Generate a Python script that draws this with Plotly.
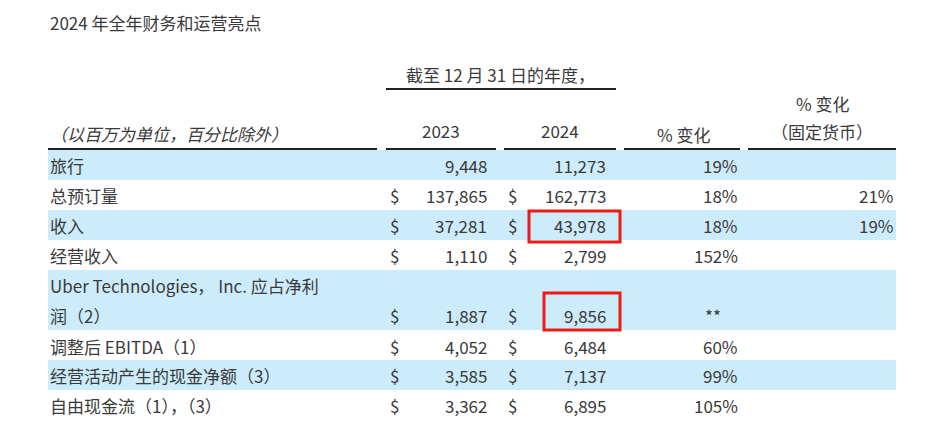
import plotly.graph_objects as go

title = "2024 年全年财务和运营亮点"
period = "截至 12 月 31 日的年度，"
col_headers = ["2023", "2024", "% 变化"]
const_header = ["% 变化", "（固定货币）"]
unit_label = "（以百万为单位，百分比除外）"
labels = ["旅行", "总预订量", "收入", "经营收入", "润（2）", "调整后 EBITDA（1）",
          "经营活动产生的现金净额（3）", "自由现金流（1），（3）"]
v2023 = ["9,448", "137,865", "37,281", "1,110", "1,887", "4,052", "3,585", "3,362"]
v2024 = ["11,273", "162,773", "43,978", "2,799", "9,856", "6,484", "7,137", "6,895"]
pct = ["19%", "18%", "18%", "152%", "**", "60%", "99%", "105%"]
pct_cc = ["", "21%", "19%", "", "", "", "", ""]
dollar = [False, True, True, True, True, True, True, True]
row_y = [165, 195, 225, 255, 315, 346, 375, 405]
bands = [(150, 180), (210, 240), (270, 330), (360, 390)]
highlight = [(2, 529, 620, 211, 242), (4, 544, 620, 293, 330)]

C = "#3a3a3a"
F = "Noto Sans CJK SC"
fig = go.Figure()
shapes = []
for y0, y1 in bands:
    shapes.append(dict(type="rect", x0=48, x1=896, y0=y0, y1=y1, fillcolor="#cdecfb", line_width=0, layer="below"))
for x0, x1 in [(48, 377), (386, 496), (504, 616), (624, 740), (748, 896)]:
    shapes.append(dict(type="line", x0=x0, x1=x1, y0=149, y1=149, line=dict(color="#222", width=2)))
shapes.append(dict(type="line", x0=386, x1=616, y0=89, y1=89, line=dict(color="#222", width=2)))
for _, x0, x1, y0, y1 in highlight:
    shapes.append(dict(type="rect", x0=x0, x1=x1, y0=y0, y1=y1, line=dict(color="#f01a14", width=3)))

ann = []
def t(x, y, s, anchor="left", size=17, italic=False):
    ann.append(dict(x=x, y=y, text=s, showarrow=False, xanchor=anchor, yanchor="middle",
                    font=dict(family=F, size=size, color=C, style="italic" if italic else "normal")))
t(48, 22, title)
t(500, 74, period, "center")
t(441, 130, col_headers[0], "center")
t(560, 130, col_headers[1], "center")
t(683, 134, col_headers[2], "center")
t(822, 103, const_header[0], "center")
t(822, 131, const_header[1], "center")
t(48, 133, unit_label, italic=True)
t(48, 285, "Uber Technologies， Inc. 应占净利")
for i, y in enumerate(row_y):
    t(48, y, labels[i])
    if dollar[i]:
        t(388, y, "$")
        t(506, y, "$")
    t(489, y, v2023[i], "right")
    t(608, y, v2024[i], "right")
    if pct[i] == "**":
        t(713, y, pct[i], "center")
    else:
        t(740, y, pct[i], "right")
    t(896, y, pct_cc[i], "right")

fig.update_layout(width=936, height=422, margin=dict(l=0, r=0, t=0, b=0),
                  plot_bgcolor="white", paper_bgcolor="white", shapes=shapes, annotations=ann,
                  xaxis=dict(range=[8, 944], visible=False, fixedrange=True),
                  yaxis=dict(range=[430, 8], visible=False, fixedrange=True), showlegend=False)
fig.write_html("out.html", config={"displayModeBar": False})
